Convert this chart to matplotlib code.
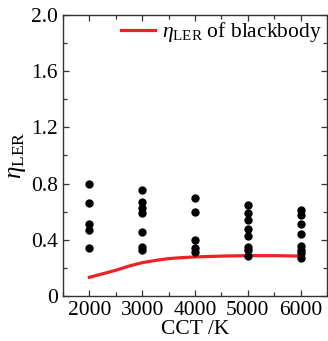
import matplotlib
matplotlib.use("Agg")
import matplotlib.pyplot as plt
from matplotlib.ticker import MultipleLocator

plt.rcParams['font.family'] = ['Liberation Serif', 'DejaVu Serif']
plt.rcParams['mathtext.fontset'] = 'custom'
plt.rcParams['mathtext.rm'] = 'Liberation Serif'
plt.rcParams['mathtext.it'] = 'Liberation Serif:italic'

# scatter data: CCT -> eta_LER values
cct_2000 = [0.795, 0.664, 0.512, 0.470, 0.342]
cct_3000 = [0.752, 0.669, 0.624, 0.588, 0.453, 0.346, 0.327]
cct_4000 = [0.695, 0.598, 0.399, 0.342, 0.311]
cct_5000 = [0.650, 0.591, 0.541, 0.474, 0.427, 0.346, 0.327, 0.285]
cct_6000 = [0.612, 0.577, 0.510, 0.439, 0.358, 0.327, 0.304, 0.268]
cct_values = [2000, 3000, 4000, 5000, 6000]
groups = [cct_2000, cct_3000, cct_4000, cct_5000, cct_6000]

# blackbody curve
bb_cct = [2000, 2250, 2500, 2750, 3000, 3250, 3500, 3750, 4000, 4500, 5000, 5500, 6000]
bb_eta = [0.133, 0.158, 0.183, 0.213, 0.237, 0.253, 0.266, 0.273, 0.278, 0.284, 0.287, 0.287, 0.284]

ytick_vals = [0, 0.4, 0.8, 1.2, 1.6, 2.0]
ytick_labels = ['0', '0.4', '0.8', '1.2', '1.6', '2.0']
xtick_vals = [2000, 3000, 4000, 5000, 6000]

fig = plt.figure(figsize=(3.28, 3.41), dpi=100)
ax = fig.add_axes([0.192, 0.132, 0.805, 0.824])

for c, g in zip(cct_values, groups):
    ax.scatter([c] * len(g), g, s=36, color='black', zorder=3, linewidths=0)

ax.plot(bb_cct, bb_eta, color='#ee2222', lw=2.3, label=r'$\eta_{\rm LER}$ of blackbody', zorder=2)

ax.set_xlim(1500, 6500)
ax.set_ylim(0, 2.0)
ax.set_xticks(xtick_vals)
ax.set_yticks(ytick_vals)
ax.set_yticklabels(ytick_labels)
ax.xaxis.set_minor_locator(MultipleLocator(500))
ax.yaxis.set_minor_locator(MultipleLocator(0.2))
ax.tick_params(which='both', direction='in', top=True, right=True, labelsize=15.5,
               color='#333333', width=0.9)
ax.tick_params(which='major', length=4)
ax.tick_params(which='minor', length=3)
for s in ax.spines.values():
    s.set_color('#333333')
    s.set_linewidth(1.0)

ax.set_xlabel('CCT /K', fontsize=15.5, labelpad=0)
ax.set_ylabel(r'$\eta_{\rm LER}$', fontsize=18, labelpad=2)

ax.legend(loc='upper right', frameon=False, fontsize=15.5, handlelength=1.6,
          handletextpad=0.3, borderaxespad=0.1, borderpad=0.15)

fig.savefig('out.png', dpi=100)
